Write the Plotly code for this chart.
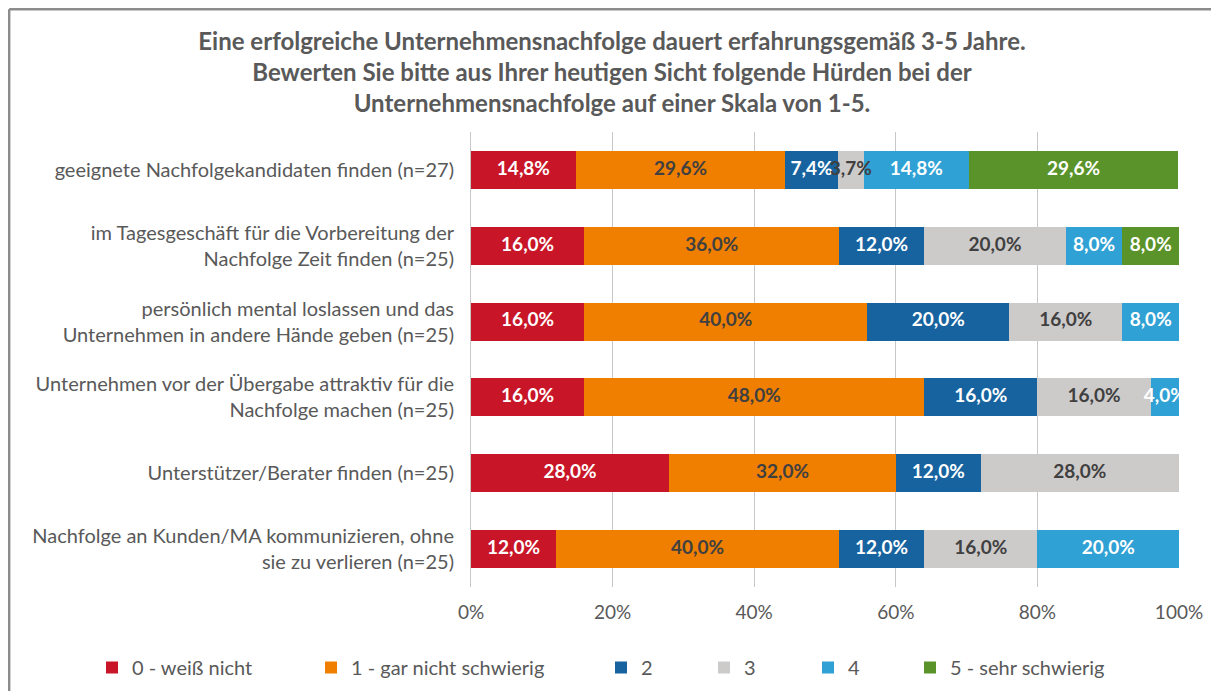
import plotly.graph_objects as go

categories = [
    "geeignete Nachfolgekandidaten finden (n=27)",
    "im Tagesgeschäft für die Vorbereitung der<br>Nachfolge Zeit finden (n=25)",
    "persönlich mental loslassen und das<br>Unternehmen in andere Hände geben (n=25)",
    "Unternehmen vor der Übergabe attraktiv für die<br>Nachfolge machen (n=25)",
    "Unterstützer/Berater finden (n=25)",
    "Nachfolge an Kunden/MA kommunizieren, ohne<br>sie zu verlieren (n=25)",
]
series_names = ["0 - weiß nicht", "1 - gar nicht schwierig", "2", "3", "4", "5 - sehr schwierig"]
s0 = [14.8, 16.0, 16.0, 16.0, 28.0, 12.0]
s1 = [29.6, 36.0, 40.0, 48.0, 32.0, 40.0]
s2 = [7.4, 12.0, 20.0, 16.0, 12.0, 12.0]
s3 = [3.7, 20.0, 16.0, 16.0, 28.0, 16.0]
s4 = [14.8, 8.0, 8.0, 4.0, 0.0, 20.0]
s5 = [29.6, 8.0, 0.0, 0.0, 0.0, 0.0]
series_values = [s0, s1, s2, s3, s4, s5]
tick_vals = [0, 20, 40, 60, 80, 100]
tick_text = ["0%", "20%", "40%", "60%", "80%", "100%"]

colors = ["#C81527", "#F07F00", "#1763A0", "#CDCACA", "#2FA1D4", "#5A9329"]
text_colors = ["white", "#404040", "white", "#404040", "white", "white"]
# page x of each legend symbol's left edge
legend_sym_px = [104, 323, 613, 716, 820, 922]

OFF = 8  # page offset of the figure (body margin)
W, H = 1219 - OFF, 691 - OFF
L, R, T, B = 471 - OFF, 40, 132 - OFF, 104
FONT = "Lato"

fig = go.Figure()
for i, (name, vals) in enumerate(zip(series_names, series_values)):
    lg = "legend" if i == 0 else f"legend{i+1}"
    fig.add_trace(go.Bar(
        y=categories, x=vals, name=name, orientation="h",
        marker=dict(color=colors[i], line=dict(width=0)),
        legend=lg, hoverinfo="x+name",
    ))

# value labels drawn on top of all bars (centre of each segment)
base = [0.0] * len(categories)
for i, vals in enumerate(series_values):
    xs, ys, ts = [], [], []
    for j, v in enumerate(vals):
        if v > 0:
            xs.append(base[j] + v / 2)
            ys.append(categories[j])
            ts.append(f"{v:.1f}%".replace(".", ","))
        base[j] += v
    fig.add_trace(go.Scatter(
        x=xs, y=ys, text=ts, mode="text", textposition="middle center",
        textfont=dict(family=FONT, size=19, color=text_colors[i], weight="bold"),
        showlegend=False, hoverinfo="skip", cliponaxis=False,
    ))

layout_legends = {}
for i, sp in enumerate(legend_sym_px):
    key = "legend" if i == 0 else f"legend{i+1}"
    layout_legends[key] = dict(
        x=(sp - OFF - 12) / W, y=1 - (662 - OFF - 14) / H, xref="container", yref="container",
        xanchor="left", yanchor="top", orientation="h",
        font=dict(family=FONT, size=20, color="#595959"),
        bgcolor="rgba(0,0,0,0)", itemclick=False,
    )

fig.update_layout(
    width=W, height=H,
    margin=dict(l=L, r=R, t=T, b=B),
    paper_bgcolor="white", plot_bgcolor="white",
    barmode="stack", bargap=0.5,
    title=dict(
        text="Eine erfolgreiche Unternehmensnachfolge dauert erfahrungsgemäß 3-5 Jahre.<br>"
             "Bewerten Sie bitte aus Ihrer heutigen Sicht folgende Hürden bei der<br>"
             "Unternehmensnachfolge auf einer Skala von 1-5.",
        x=(612 - OFF) / W, xref="container", xanchor="center",
        y=1 - 42 / H, yref="container", yanchor="top",
        font=dict(family=FONT, size=24, color="#595959", weight="bold"),
    ),
    xaxis=dict(
        range=[0, 100], tickvals=tick_vals, ticktext=tick_text,
        showgrid=True, gridcolor="#C8C8C8", gridwidth=1,
        zeroline=False, showline=False, ticks="",
        tickfont=dict(family=FONT, size=19, color="#595959"),
        ticklabelstandoff=12,
    ),
    yaxis=dict(
        autorange="reversed", showgrid=False, zeroline=False,
        showline=True, linecolor="#C8C8C8", linewidth=1, ticks="",
        tickfont=dict(family=FONT, size=20, color="#595959"),
        ticklabelstandoff=12,
    ),
    showlegend=True,
    **layout_legends,
)

# chart frame (top and left edges visible)
px_w, px_h = W - L - R, H - T - B
def xp(p): return (p - L) / px_w
def yp(p): return (H - B - p) / px_h
fig.add_shape(type="line", xref="paper", yref="paper",
              x0=xp(1.2), x1=xp(W + 10), y0=yp(1.2), y1=yp(1.2),
              line=dict(color="#8C8C8C", width=2.4))
fig.add_shape(type="line", xref="paper", yref="paper",
              x0=xp(1.2), x1=xp(1.2), y0=yp(1.2), y1=yp(H + 10),
              line=dict(color="#8C8C8C", width=2.4))

fig.write_html("out.html")
